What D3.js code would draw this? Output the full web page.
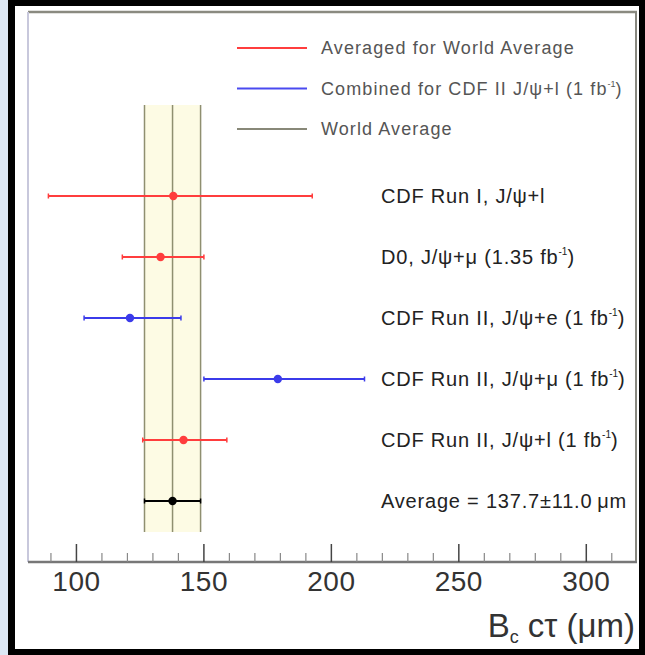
<!DOCTYPE html>
<html>
<head>
    <meta charset="utf-8">
    <script src="https://cdnjs.cloudflare.com/ajax/libs/d3/7.8.5/d3.min.js"></script>
    <style>
        body {
            margin: 0;
            background-color: #dce7f4;
            font-family: 'Liberation Sans', Arial, sans-serif;
        }
        svg { display: block; }
    </style>
</head>
<body>
    <svg width="645" height="655"></svg>
    <script>
        // measurements (c tau in micrometres)
        var labels = ["CDF Run I, J/\u03c8+l", "D0, J/\u03c8+\u03bc (1.35 fb", "CDF Run II, J/\u03c8+e (1 fb",
                      "CDF Run II, J/\u03c8+\u03bc (1 fb", "CDF Run II, J/\u03c8+l (1 fb", "Average = 137.7\u00b111.0\u2009\u03bcm"];
        var labelSup = ["", "-1", "-1", "-1", "-1", ""];
        var values = [138, 133, 121, 179, 142, 137.7];
        var errLow = [49, 15, 18, 29, 16, 11.0];
        var errHigh = [54.5, 17, 20, 34, 17, 11.0];
        var groups = ["avg", "avg", "comb", "comb", "avg", "world"];

        var legendLabels = ["Averaged for World Average", "Combined for CDF II J/\u03c8+l (1 fb", "World Average"];
        var legendSup = ["", "-1", ""];
        var legendGroups = ["avg", "comb", "world"];

        var worldAvg = 137.7, worldErr = 11.0;
        var xTicks = [100, 150, 200, 250, 300];

        var colors = {avg: "#ff3d3d", comb: "#3b3bea", world: "#000"};
        var legendColors = {avg: "#ff3d3d", comb: "#4a4af0", world: "#888878"};

        var svg = d3.select("svg");

        // frame / background
        svg.append("rect").attr("x", 8).attr("y", 0).attr("width", 637).attr("height", 655).attr("fill", "#000");
        svg.append("rect").attr("x", 15).attr("y", 6).attr("width", 624).attr("height", 643).attr("fill", "#fff");

        var margin = {left: 28, right: 636, top: 12, bottom: 562};

        var x = d3.scaleLinear().domain([81, 319.5]).range([margin.left, margin.right]);
        var y = d3.scalePoint().domain(d3.range(values.length)).range([196, 501]);
        var yl = d3.scalePoint().domain(d3.range(legendLabels.length)).range([48, 129]);

        // world average band
        var bandTop = y(0) - 91, bandBot = y(values.length - 1) + 31;
        svg.append("rect")
            .attr("x", x(worldAvg - worldErr))
            .attr("y", bandTop)
            .attr("width", x(worldAvg + worldErr) - x(worldAvg - worldErr))
            .attr("height", bandBot - bandTop)
            .attr("fill", "#fdfbe4");
        [worldAvg - worldErr, worldAvg, worldAvg + worldErr].forEach(function(v) {
            svg.append("line")
                .attr("x1", x(v)).attr("x2", x(v))
                .attr("y1", bandTop).attr("y2", bandBot)
                .attr("stroke", "#8f8f70").attr("stroke-width", 1.5);
        });

        // plot frame
        svg.append("line").attr("x1", margin.left).attr("x2", margin.right + 1)
            .attr("y1", margin.top).attr("y2", margin.top)
            .attr("stroke", "#8a8a80").attr("stroke-width", 2.5);
        svg.append("line").attr("x1", margin.left).attr("x2", margin.left)
            .attr("y1", margin.top).attr("y2", margin.bottom)
            .attr("stroke", "#c8c8dc").attr("stroke-width", 2);
        svg.append("line").attr("x1", margin.right).attr("x2", margin.right)
            .attr("y1", margin.top).attr("y2", margin.bottom)
            .attr("stroke", "#888880").attr("stroke-width", 2);

        // x axis
        var axis = svg.append("g")
            .attr("transform", "translate(0," + margin.bottom + ")");
        axis.append("line").attr("x1", margin.left).attr("x2", margin.right + 1)
            .attr("stroke", "#777").attr("stroke-width", 2.5);
        var minor = d3.range(90, 320, 10).filter(function(v) { return v % 50 !== 0; });
        axis.selectAll(".minor").data(minor).enter().append("line")
            .attr("x1", function(d) { return x(d); }).attr("x2", function(d) { return x(d); })
            .attr("y1", 0).attr("y2", -9)
            .attr("stroke", "#888").attr("stroke-width", 1.2);
        axis.selectAll(".major").data(xTicks).enter().append("line")
            .attr("x1", function(d) { return x(d); }).attr("x2", function(d) { return x(d); })
            .attr("y1", 0).attr("y2", -18)
            .attr("stroke", "#444").attr("stroke-width", 1.5);
        axis.selectAll(".tlab").data(xTicks).enter().append("text")
            .attr("x", function(d) { return x(d); })
            .attr("y", 29)
            .attr("text-anchor", "middle")
            .style("font-size", "28px")
            .style("letter-spacing", "0.5px")
            .style("fill", "#333")
            .text(function(d) { return d; });

        var title = svg.append("text")
            .attr("x", 635).attr("y", 637)
            .attr("text-anchor", "end")
            .style("font-size", "33px")
            .style("fill", "#333");
        title.append("tspan").text("B");
        title.append("tspan").attr("dy", 6).style("font-size", "18px").text("c");
        title.append("tspan").attr("dy", -6).text(" c\u03c4 (\u03bcm)");

        // measurements
        var rows = svg.selectAll(".row").data(values).enter().append("g").attr("class", "row");
        rows.append("line")
            .attr("x1", function(d, i) { return x(d - errLow[i]); })
            .attr("x2", function(d, i) { return x(d + errHigh[i]); })
            .attr("y1", function(d, i) { return y(i); })
            .attr("y2", function(d, i) { return y(i); })
            .attr("stroke", function(d, i) { return colors[groups[i]]; })
            .attr("stroke-width", 2);
        rows.each(function(d, i) {
            var g = d3.select(this);
            [d - errLow[i], d + errHigh[i]].forEach(function(v) {
                g.append("line")
                    .attr("x1", x(v)).attr("x2", x(v))
                    .attr("y1", y(i) - 2.5).attr("y2", y(i) + 2.5)
                    .attr("stroke", colors[groups[i]]).attr("stroke-width", 1.5);
            });
        });
        rows.append("circle")
            .attr("cx", function(d) { return x(d); })
            .attr("cy", function(d, i) { return y(i); })
            .attr("r", 4.2)
            .attr("fill", function(d, i) { return colors[groups[i]]; });

        rows.each(function(d, i) {
            var t = d3.select(this).append("text")
                .attr("x", 381)
                .attr("y", y(i) + 7)
                .style("font-size", "20px")
                .style("letter-spacing", "0.8px")
                .style("fill", "#222");
            t.append("tspan").text(labels[i]);
            if (labelSup[i]) {
                t.append("tspan").attr("dy", -9).style("font-size", "10px").style("letter-spacing", "0px").text(labelSup[i]);
                t.append("tspan").attr("dy", 9).text(")");
            }
        });

        // legend
        var leg = svg.selectAll(".leg").data(legendLabels).enter().append("g").attr("class", "leg");
        leg.append("line")
            .attr("x1", 237).attr("x2", 307)
            .attr("y1", function(d, i) { return yl(i); })
            .attr("y2", function(d, i) { return yl(i); })
            .attr("stroke", function(d, i) { return legendColors[legendGroups[i]]; })
            .attr("stroke-width", 2);
        leg.each(function(d, i) {
            var t = d3.select(this).append("text")
                .attr("x", 321)
                .attr("y", yl(i) + 6)
                .style("font-size", "18px")
                .style("letter-spacing", "1.1px")
                .style("fill", "#555");
            t.append("tspan").text(d);
            if (legendSup[i]) {
                t.append("tspan").attr("dy", -8).style("font-size", "9px").style("letter-spacing", "0px").text(legendSup[i]);
                t.append("tspan").attr("dy", 8).text(")");
            }
        });
    </script>
</body>
</html>
